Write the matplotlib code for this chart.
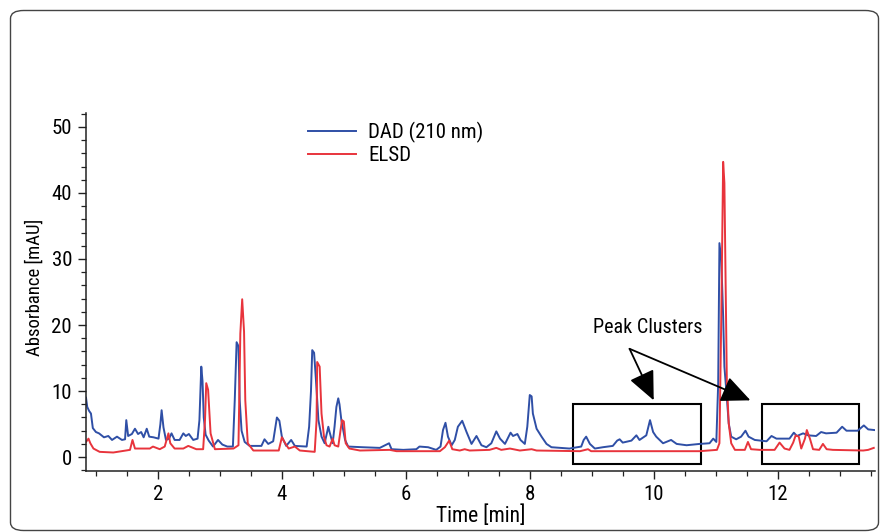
import matplotlib
matplotlib.use("Agg")
import matplotlib.pyplot as plt
from matplotlib.patches import Rectangle, FancyBboxPatch
from matplotlib.ticker import MultipleLocator

plt.rcParams['font.family'] = ['Liberation Sans Narrow', 'Roboto Condensed', 'Open Sans Condensed',
                               'Liberation Sans', 'DejaVu Sans']

# DAD (210 nm) trace: time [min], absorbance [mAU]
dad_t = [0.84, 0.86, 0.89, 0.92, 0.95, 1.00, 1.05, 1.13, 1.20, 1.26, 1.34, 1.42, 1.47, 1.49, 1.52,
         1.58, 1.63, 1.68, 1.73, 1.77, 1.82, 1.86, 1.93, 2.01, 2.04, 2.06, 2.09, 2.13, 2.18, 2.22,
         2.27, 2.35, 2.41, 2.45, 2.50, 2.57, 2.64, 2.67, 2.70, 2.72, 2.74, 2.77, 2.82, 2.89, 2.97,
         3.04, 3.12, 3.21, 3.24, 3.27, 3.30, 3.32, 3.35, 3.40, 3.48, 3.67, 3.72, 3.78, 3.86, 3.92,
         3.96, 4.00, 4.07, 4.15, 4.21, 4.40, 4.44, 4.47, 4.49, 4.52, 4.55, 4.59, 4.64, 4.69, 4.75,
         4.77, 4.82, 4.85, 4.88, 4.91, 4.93, 4.96, 5.02, 5.07, 5.30, 5.58, 5.73, 5.77, 5.96, 6.17,
         6.22, 6.36, 6.49, 6.56, 6.60, 6.64, 6.68, 6.74, 6.79, 6.84, 6.91, 6.98, 7.06, 7.14, 7.22,
         7.30, 7.38, 7.46, 7.52, 7.60, 7.69, 7.73, 7.80, 7.85, 7.92, 7.96, 8.00, 8.03, 8.05, 8.11,
         8.19, 8.27, 8.35, 8.64, 8.83, 8.87, 8.91, 8.97, 9.05, 9.18, 9.34, 9.41, 9.45, 9.50, 9.64,
         9.72, 9.77, 9.88, 9.94, 9.99, 10.04, 10.15, 10.28, 10.37, 10.53, 10.74, 10.90, 10.96, 11.01,
         11.04, 11.06, 11.09, 11.12, 11.14, 11.17, 11.21, 11.25, 11.33, 11.41, 11.48, 11.53, 11.63,
         11.82, 11.90, 11.98, 12.19, 12.26, 12.31, 12.41, 12.49, 12.62, 12.70, 12.78, 12.95, 13.04,
         13.11, 13.29, 13.39, 13.46, 13.56]
dad_v = [9.0, 7.6, 7.0, 6.6, 4.4, 3.8, 3.6, 3.0, 3.2, 2.6, 3.1, 2.6, 2.7, 5.6, 3.2,
         3.5, 4.3, 3.5, 3.8, 3.0, 4.3, 3.1, 3.0, 2.8, 5.0, 7.1, 4.5, 2.6, 2.8, 3.6,
         2.6, 2.6, 3.6, 3.2, 3.5, 2.6, 2.8, 5.6, 13.7, 11.5, 6.0, 3.4, 2.5, 1.6, 2.6,
         1.9, 1.6, 1.6, 8.6, 17.4, 16.8, 8.6, 4.0, 2.3, 1.7, 1.7, 2.7, 2.0, 2.4, 6.0,
         5.5, 3.1, 1.7, 2.6, 1.7, 1.6, 4.6, 10.0, 16.2, 15.8, 11.7, 5.6, 3.1, 2.1, 4.6,
         3.8, 2.1, 4.6, 7.6, 8.9, 8.0, 5.6, 2.6, 1.6, 1.5, 1.4, 2.1, 1.2, 1.1, 1.2,
         1.6, 1.5, 1.1, 1.6, 4.1, 5.2, 3.1, 1.8, 2.6, 4.6, 5.5, 3.8, 2.0, 3.2, 1.8,
         1.5, 2.1, 3.9, 2.8, 2.0, 3.7, 3.2, 3.5, 2.6, 2.0, 4.6, 9.4, 9.2, 6.6, 4.3,
         3.1, 2.0, 1.5, 1.3, 1.6, 2.6, 3.1, 2.0, 1.3, 1.5, 1.7, 2.5, 2.7, 2.2, 2.5,
         3.3, 2.6, 3.3, 5.6, 3.8, 3.1, 2.1, 2.6, 2.0, 1.8, 2.0, 2.1, 2.8, 2.3,
         11.2, 32.4, 29.8, 21.3, 13.7, 10.2, 5.1, 3.1, 2.7, 3.1, 4.0, 3.1, 2.6,
         2.4, 3.2, 2.8, 2.8, 3.7, 3.2, 3.6, 3.3, 3.2, 3.8, 3.6, 3.7, 4.6,
         4.0, 4.0, 4.8, 4.2, 4.1]

# ELSD trace
elsd_t = [0.84, 0.88, 0.91, 0.96, 1.06, 1.28, 1.55, 1.59, 1.63, 1.87, 1.92, 2.03, 2.11, 2.17, 2.20,
          2.27, 2.41, 2.49, 2.62, 2.73, 2.76, 2.78, 2.81, 2.85, 2.92, 3.22, 3.30, 3.33, 3.36, 3.39,
          3.41, 3.45, 3.54, 3.95, 4.00, 4.06, 4.11, 4.21, 4.29, 4.53, 4.56, 4.57, 4.61, 4.64, 4.68,
          4.72, 4.77, 4.82, 4.85, 4.91, 4.97, 5.00, 5.03, 5.09, 5.26, 5.74, 5.85, 6.55, 6.63, 6.70,
          6.75, 6.87, 6.95, 7.03, 7.35, 7.46, 7.54, 7.68, 7.84, 8.03, 8.11, 8.81, 8.94, 8.99, 10.74,
          11.02, 11.06, 11.09, 11.12, 11.14, 11.16, 11.18, 11.21, 11.25, 11.31, 11.47, 11.52, 11.57,
          11.71, 11.95, 12.03, 12.11, 12.19, 12.25, 12.29, 12.34, 12.38, 12.44, 12.47, 12.52, 12.57,
          12.67, 12.73, 12.79, 12.89, 13.38, 13.46, 13.55]
elsd_v = [2.3, 2.8, 2.1, 1.3, 0.8, 0.7, 1.1, 2.6, 1.3, 1.3, 1.6, 1.2, 1.6, 3.6, 2.1,
          1.3, 1.3, 1.7, 1.2, 1.2, 5.6, 11.2, 10.2, 3.6, 1.2, 1.3, 1.8, 18.7, 23.9, 19.0,
          8.6, 2.1, 1.0, 1.0, 3.0, 2.0, 1.3, 1.6, 1.0, 0.8, 5.6, 14.4, 13.7, 6.6, 3.1,
          1.8, 1.6, 2.8, 1.8, 1.6, 5.6, 5.4, 2.1, 1.3, 1.0, 1.1, 0.9, 0.9, 1.5, 2.5,
          1.2, 1.0, 1.2, 1.0, 1.1, 1.4, 1.1, 1.3, 1.0, 1.2, 1.0, 0.9, 1.2, 0.9, 0.9,
          1.1, 2.1, 21.3, 44.7, 41.5, 26.3, 11.2, 5.1, 2.1, 1.1, 1.1, 2.3, 1.2,
          1.1, 1.1, 2.2, 1.3, 1.1, 2.2, 3.3, 3.1, 1.3, 2.8, 4.1, 2.8, 1.2,
          1.1, 2.0, 1.2, 1.1, 1.0, 1.1, 1.4]

series_labels = ["DAD (210 nm)", "ELSD"]
x_ticks = [2, 4, 6, 8, 10, 12]
y_ticks = [0, 10, 20, 30, 40, 50]

# Annotated cluster regions (time start, time end)
cluster_spans = [(8.69, 10.77), (11.74, 13.31)]
annot_text = "Peak Clusters"

W, H = 881, 532
fig = plt.figure(figsize=(W / 100, H / 100), dpi=100)

# rounded frame around figure
frame = FancyBboxPatch((10.5 / W, 1.5 / H), (868 / W), (520 / H),
                       boxstyle="round,pad=0,rounding_size=0.015",
                       transform=fig.transFigure, facecolor='none',
                       edgecolor='#444444', linewidth=1.0)
fig.patches.append(frame)

ax = fig.add_axes([86 / W, (H - 471) / H, 789 / W, 358 / H])

ax.plot(dad_t, dad_v, color='#2F4FA6', lw=1.4, label=series_labels[0])
ax.plot(elsd_t, elsd_v, color='#E8343C', lw=1.4, label=series_labels[1])

ax.set_xlim(0.84, 13.57)
ax.set_ylim(-2.1, 52.1)
ax.set_xticks(x_ticks)
ax.set_yticks(y_ticks)
ax.xaxis.set_minor_locator(MultipleLocator(0.5))
ax.yaxis.set_minor_locator(MultipleLocator(2))
ax.tick_params(which='major', length=6, width=1.0, labelsize=15, pad=4, color='#222222')
ax.tick_params(which='minor', length=3.5, width=0.9, color='#222222')
for s in ['top', 'right']:
    ax.spines[s].set_visible(False)
for s in ['left', 'bottom']:
    ax.spines[s].set_linewidth(1.1)
    ax.spines[s].set_color('#222222')

ax.set_xlabel("Time [min]", fontsize=15.5, labelpad=1)
ax.set_ylabel("Absorbance [mAU]", fontsize=13.5)
ax.yaxis.set_label_coords((44 - 86) / 789, (471 - 287) / 358)

leg = ax.legend(loc='upper left', bbox_to_anchor=((308 - 86) / 789, (471 - 122) / 358),
                frameon=False, fontsize=15, handlelength=2.3, handletextpad=0.6,
                labelspacing=0.15, borderpad=0, borderaxespad=0)

for (a, b) in cluster_spans:
    ax.add_patch(Rectangle((a, -1.06), b - a, 9.06, fill=False, edgecolor='black', lw=1.5))

ax.text(9.9, 19.7, annot_text, fontsize=14.5, ha='center', va='center')
for tip in [(10.0, 8.6), (11.56, 8.6)]:
    ax.annotate('', xy=tip, xytext=(9.61, 16.4),
                arrowprops=dict(arrowstyle='-|>,head_length=1.0,head_width=0.45',
                                mutation_scale=18, color='black', lw=1.3,
                                shrinkA=0, shrinkB=0))

fig.savefig("out.png", dpi=100)
